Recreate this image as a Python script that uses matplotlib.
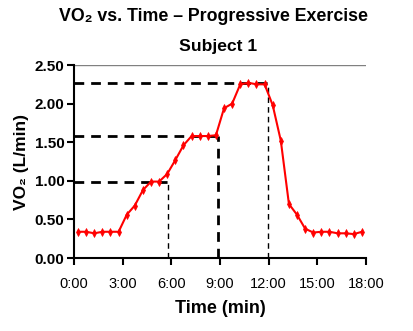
import matplotlib
matplotlib.use("Agg")
import matplotlib.pyplot as plt

plt.rcParams['font.family'] = ['Liberation Sans', 'DejaVu Sans']

# sample times (min) and oxygen uptake (L/min)
minutes = [0.25, 0.75, 1.25, 1.75, 2.25, 2.75, 3.25, 3.75, 4.25, 4.75,
           5.25, 5.75, 6.25, 6.75, 7.25, 7.75, 8.25, 8.75, 9.25, 9.75,
           10.25, 10.75, 11.25, 11.75, 12.25, 12.75, 13.25, 13.75, 14.25,
           14.75, 15.25, 15.75, 16.25, 16.75, 17.25, 17.75]
vo2 = [0.34, 0.34, 0.32, 0.34, 0.34, 0.34, 0.56, 0.68, 0.88, 0.99,
       0.99, 1.09, 1.27, 1.46, 1.58, 1.58, 1.58, 1.59, 1.94, 2.00,
       2.25, 2.27, 2.25, 2.25, 1.98, 1.52, 0.70, 0.56, 0.38,
       0.33, 0.34, 0.34, 0.32, 0.32, 0.31, 0.34]

# plateau guides: level, end time, vertical line width
levels = [0.99, 1.58, 2.27]
level_ends = [5.82, 8.85, 11.93]
drop_widths = [1.0, 2.0, 1.0]

xticks = [0, 3, 6, 9, 12, 15, 18]
yticks = [0.0, 0.5, 1.0, 1.5, 2.0, 2.5]

fig = plt.figure(figsize=(4.14, 3.31), dpi=100)
ax = fig.add_axes([0.1787, 0.2205, 0.7053, 0.5831])

for lv, te, lw in zip(levels, level_ends, drop_widths):
    ax.plot([0, te], [lv, lv], color='black', lw=2, dashes=(3.5, 2.5))
    ax.plot([te, te], [0, lv], color='black', lw=lw,
            dashes=(4, 3) if lw < 1.5 else (3.5, 2.5))

ax.plot(minutes, vo2, color='red', lw=1.5, marker='d', markersize=4,
        markeredgewidth=0.5)

ax.axhline(2.5, color='#808080', lw=1)

ax.set_xlim(0, 18)
ax.set_ylim(0, 2.5)
ax.set_xticks(xticks)
ax.set_xticklabels([f"{m}:00" for m in xticks], fontsize=10.5)
ax.set_yticks(yticks)
ax.set_yticklabels([f"{v:.2f}" for v in yticks], fontsize=11, fontweight='bold')

ax.spines['right'].set_visible(False)
ax.spines['top'].set_visible(False)
ax.spines['left'].set_linewidth(1.5)
ax.spines['bottom'].set_linewidth(1.5)
ax.tick_params(axis='x', direction='out', length=5, width=1.5, pad=9)
ax.tick_params(axis='y', direction='out', length=5, width=1.5, pad=2)

ax.set_xlabel("Time (min)", fontsize=13, fontweight='bold', labelpad=6)
ax.set_ylabel("VO\u2082 (L/min)", fontsize=12.5, fontweight='bold', labelpad=4)

fig.text(0.515, 0.95, "VO\u2082 vs. Time \u2013 Progressive Exercise",
         ha='center', va='center', fontsize=12.8, fontweight='bold')
fig.text(0.527, 0.86, "Subject 1", ha='center', va='center',
         fontsize=12.6, fontweight='bold')

fig.savefig("out.png", dpi=100)
